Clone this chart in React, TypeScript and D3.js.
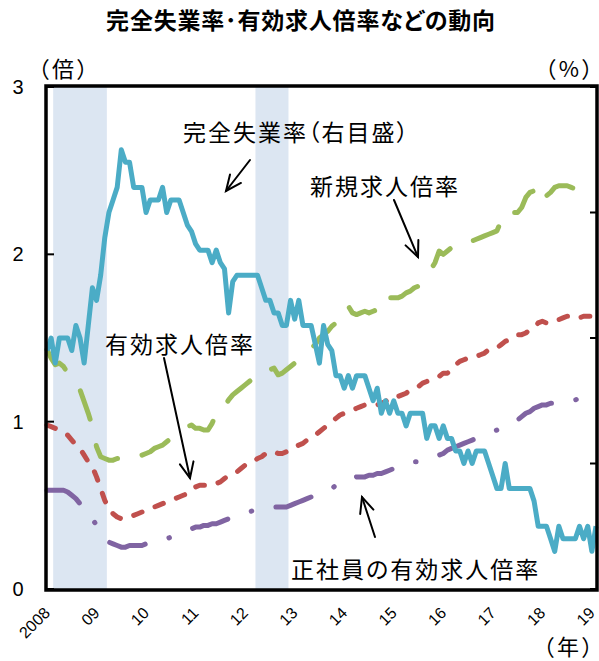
import React from 'react';
import * as d3 from 'd3';

// Monthly data, Jan 2008 .. Feb 2019
const startYear = 2008;
const unemployment = [
  3.9, 4.0, 3.8, 4.0, 4.0, 4.0, 3.9, 4.1, 4.0, 3.8, 4.1, 4.4,
  4.3, 4.5, 4.8, 5.0, 5.1, 5.2, 5.5, 5.4, 5.4, 5.2, 5.2, 5.2,
  5.0, 5.1, 5.1, 5.1, 5.2, 5.0, 5.1, 5.1, 5.1, 5.0, 4.9, 4.85,
  4.75, 4.7, 4.7, 4.7, 4.6, 4.7, 4.6, 4.55, 4.2, 4.45, 4.5, 4.5,
  4.5, 4.5, 4.5, 4.5, 4.4, 4.3, 4.3, 4.2, 4.2, 4.1, 4.1, 4.3,
  4.15, 4.3, 4.1, 4.1, 4.1, 3.95, 3.8, 4.1, 3.95, 3.9, 3.7, 3.7,
  3.6, 3.7, 3.6, 3.7, 3.7, 3.7, 3.6, 3.5, 3.6, 3.4, 3.5, 3.4,
  3.5, 3.4, 3.4, 3.3, 3.4, 3.4, 3.4, 3.4, 3.2, 3.3, 3.3, 3.2,
  3.3, 3.2, 3.2, 3.1, 3.1, 3.0, 3.1, 3.0, 3.1, 3.1, 3.1, 3.0,
  2.9, 2.8, 2.8, 3.0, 2.8, 2.8, 2.8, 2.8, 2.8, 2.8, 2.7, 2.5,
  2.5, 2.5, 2.4, 2.3, 2.5, 2.4, 2.4, 2.4, 2.4, 2.5, 2.4, 2.5,
  2.3, 2.5,
];
const newOpeningsRatio = [
  1.43, 1.38, 1.34, 1.35, 1.33, 1.29, 1.27, 1.24, 1.19, 1.12, 1.05, 0.97,
  0.85, 0.79, 0.78, 0.77, 0.77, 0.78, 0.78, 0.79, 0.81, 0.80, 0.79, 0.80,
  0.81, 0.82, 0.84, 0.85, 0.86, 0.88, 0.90, 0.91, 0.94, 0.96, 0.97, 0.98,
  0.96, 0.96, 0.95, 0.95, 0.99, 1.05, 1.05, 1.09, 1.13, 1.16, 1.18, 1.20,
  1.22, 1.24, 1.26, 1.29, 1.28, 1.29, 1.31, 1.32, 1.28, 1.29, 1.31, 1.33,
  1.35, 1.38, 1.40, 1.41, 1.44, 1.46, 1.50, 1.52, 1.54, 1.57, 1.59, 1.63,
  1.69, 1.69, 1.65, 1.64, 1.65, 1.66, 1.65, 1.66, 1.67, 1.69, 1.76, 1.74,
  1.74, 1.74, 1.75, 1.77, 1.78, 1.80, 1.81, 1.83, 1.85, 1.91, 1.95, 2.02,
  2.00, 2.02, 2.04, 2.03, 2.03, 2.06, 2.07, 2.08, 2.09, 2.10, 2.11, 2.12,
  2.13, 2.14, 2.20, 2.26, 2.25, 2.25, 2.25, 2.28, 2.34, 2.37, 2.38, 2.35,
  2.30, 2.35, 2.37, 2.40, 2.41, 2.41, 2.41, 2.40, 2.39, 2.39, 2.40, 2.41,
  2.43, 2.45,
];
const activeOpeningsRatio = [
  0.98, 0.97, 0.96, 0.95, 0.93, 0.92, 0.89, 0.86, 0.84, 0.80, 0.76, 0.73,
  0.67, 0.60, 0.53, 0.48, 0.45, 0.43, 0.42, 0.42, 0.43, 0.44, 0.45, 0.46,
  0.47, 0.48, 0.49, 0.50, 0.51, 0.52, 0.53, 0.54, 0.55, 0.56, 0.57, 0.58,
  0.61, 0.62, 0.62, 0.62, 0.62, 0.63, 0.64, 0.66, 0.68, 0.69, 0.70, 0.72,
  0.74, 0.75, 0.76, 0.78, 0.79, 0.81, 0.82, 0.82, 0.81, 0.81, 0.82, 0.83,
  0.85, 0.86, 0.87, 0.89, 0.91, 0.92, 0.94, 0.96, 0.98, 1.00, 1.02, 1.04,
  1.05, 1.06, 1.07, 1.08, 1.09, 1.10, 1.10, 1.10, 1.10, 1.11, 1.12, 1.14,
  1.15, 1.15, 1.16, 1.17, 1.19, 1.20, 1.21, 1.23, 1.24, 1.25, 1.26, 1.27,
  1.29, 1.29, 1.31, 1.34, 1.36, 1.37, 1.38, 1.38, 1.39, 1.40, 1.41, 1.43,
  1.44, 1.44, 1.46, 1.48, 1.49, 1.51, 1.52, 1.52, 1.53, 1.55, 1.56, 1.59,
  1.60, 1.59, 1.60, 1.60, 1.61, 1.62, 1.63, 1.63, 1.63, 1.62, 1.63, 1.63,
  1.63, 1.63,
];
const regularOpeningsRatio = [
  0.59, 0.59, 0.59, 0.59, 0.59, 0.58, 0.56, 0.54, 0.51, 0.49, 0.46, 0.42,
  0.38, 0.34, 0.30, 0.28, 0.27, 0.26, 0.25, 0.25, 0.26, 0.26, 0.26, 0.26,
  0.27, 0.27, 0.28, 0.29, 0.29, 0.30, 0.31, 0.32, 0.33, 0.34, 0.35, 0.36,
  0.37, 0.37, 0.38, 0.38, 0.39, 0.39, 0.40, 0.41, 0.42, 0.43, 0.43, 0.44,
  0.45, 0.46, 0.47, 0.48, 0.49, 0.49, 0.49, 0.49, 0.49, 0.49, 0.49, 0.50,
  0.51, 0.52, 0.53, 0.54, 0.55, 0.56, 0.57, 0.58, 0.59, 0.60, 0.62, 0.63,
  0.65, 0.66, 0.66, 0.67, 0.67, 0.67, 0.68, 0.68, 0.69, 0.69, 0.70, 0.71,
  0.72, 0.73, 0.73, 0.74, 0.75, 0.76, 0.76, 0.77, 0.78, 0.79, 0.79, 0.80,
  0.81, 0.83, 0.84, 0.85, 0.86, 0.87, 0.88, 0.89, 0.90, 0.91, 0.92, 0.93,
  0.94, 0.95, 0.96, 0.97, 0.99, 1.00, 1.01, 1.03, 1.05, 1.06, 1.08, 1.09,
  1.10, 1.10, 1.11, 1.11, 1.12, 1.12, 1.13, 1.13, 1.13, 1.14, 1.14, 1.14,
  1.14, 1.14,
];
// recession periods (month index start/end, inclusive)
const recessionStart = [2, 51];
const recessionEnd = [14, 58];
const yearLabels = ['2008', '09', '10', '11', '12', '13', '14', '15', '16', '17', '18', '19'];
const leftTicks = [0, 1, 2, 3];
const rightTicks = [2, 3, 4, 5, 6];

const L = 47, R = 596, T = 87, B = 589;
const LATIN = "'Liberation Sans', Arial, sans-serif";
const CJK = "'Noto Sans CJK JP', sans-serif";

export default function App() {
  const n = unemployment.length;
  const x = d3.scaleLinear().domain([0, n - 1]).range([L, R]);
  const yL = d3.scaleLinear().domain([0, 3]).range([B, T]);
  const yR = d3.scaleLinear().domain([2, 6]).range([B, T]);
  const lineL = d3.line<number>().x((_, i) => x(i)).y((d) => yL(d));
  const lineR = d3.line<number>().x((_, i) => x(i)).y((d) => yR(d));

  const cjkStyle: React.CSSProperties = { fontFeatureSettings: '"palt"' };

  const arrow = (x1: number, y1: number, x2: number, y2: number) => {
    const a = Math.atan2(y2 - y1, x2 - x1);
    const len = 17, sp = 0.42;
    const p1 = [x2 - len * Math.cos(a - sp), y2 - len * Math.sin(a - sp)];
    const p2 = [x2 - len * Math.cos(a + sp), y2 - len * Math.sin(a + sp)];
    return (
      <g stroke="#000" strokeWidth={2} fill="none" strokeLinecap="round">
        <line x1={x1} y1={y1} x2={x2} y2={y2} />
        <polyline points={`${p1[0]},${p1[1]} ${x2},${y2} ${p2[0]},${p2[1]}`} />
      </g>
    );
  };

  return (
    <svg width={599} height={661} style={{ position: 'absolute', left: 0, top: 0, background: '#fff' }}>
      <rect x={0} y={0} width={599} height={661} fill="#fff" />
      <text x={301} y={29} textAnchor="middle" fontFamily={CJK} fontWeight="bold" fontSize={23} letterSpacing={0.8} style={cjkStyle}>
        完全失業率･有効求人倍率などの動向
      </text>
      <text x={38} y={77} fontFamily={CJK} fontSize={22} letterSpacing={3} style={cjkStyle}>（倍）</text>
      <text x={596} y={77} textAnchor="end" fontFamily={CJK} fontSize={22} letterSpacing={3} style={cjkStyle}>（%）</text>
      <text x={596} y={655} textAnchor="end" fontFamily={CJK} fontSize={22} letterSpacing={3} style={cjkStyle}>（年）</text>

      {recessionStart.map((s, k) => (
        <rect key={k} x={x(s - 0.5)} y={T} width={x(recessionEnd[k] + 0.5) - x(s - 0.5)} height={B - T} fill="#DCE6F2" />
      ))}

      <path d={lineL(newOpeningsRatio) || ''} fill="none" stroke="#9BBB59" strokeWidth={5} strokeLinecap="round" strokeLinejoin="round" strokeDasharray="30 27" />
      <path d={lineL(activeOpeningsRatio) || ''} fill="none" stroke="#C0504D" strokeWidth={5} strokeLinecap="round" strokeLinejoin="round" strokeDasharray="9 14" />
      <path d={lineL(regularOpeningsRatio) || ''} fill="none" stroke="#8064A2" strokeWidth={5} strokeLinecap="round" strokeLinejoin="round" strokeDasharray="37 25 0.5 25" />
      <path d={lineR(unemployment) || ''} fill="none" stroke="#4BACC6" strokeWidth={5} strokeLinejoin="round" />

      <rect x={L - 1} y={T - 1} width={R - L + 2} height={B - T + 2} fill="none" stroke="#000" strokeWidth={3.5} />
      {leftTicks.map((t) => (
        <g key={t}>
          <line x1={L} x2={L + 7} y1={yL(t)} y2={yL(t)} stroke="#000" strokeWidth={2} />
          <text x={18} y={yL(t) + 7} textAnchor="middle" fontFamily={LATIN} fontSize={20}>{t}</text>
        </g>
      ))}
      {rightTicks.map((t) => (
        <line key={t} x1={R - 6} x2={R} y1={yR(t)} y2={yR(t)} stroke="#000" strokeWidth={2} />
      ))}
      {yearLabels.map((lab, k) => {
        const xi = x(k * 12);
        return (
          <text key={lab} x={xi + 4} y={614} textAnchor="end" fontFamily={LATIN} fontSize={16}
            transform={`rotate(-45 ${xi + 4} 614)`}>{lab}</text>
        );
      })}

      <g fontFamily={CJK} fontSize={23} letterSpacing={2} style={cjkStyle}>
        <text x={183} y={141}>完全失業率（右目盛）</text>
        <text x={310} y={195}>新規求人倍率</text>
        <text x={105} y={353}>有効求人倍率</text>
        <text x={291} y={578}>正社員の有効求人倍率</text>
      </g>
      {arrow(250, 160, 226, 191)}
      {arrow(394, 200, 418, 257)}
      {arrow(164, 358, 190, 478)}
      {arrow(375, 537, 362, 497)}
    </svg>
  );
}
